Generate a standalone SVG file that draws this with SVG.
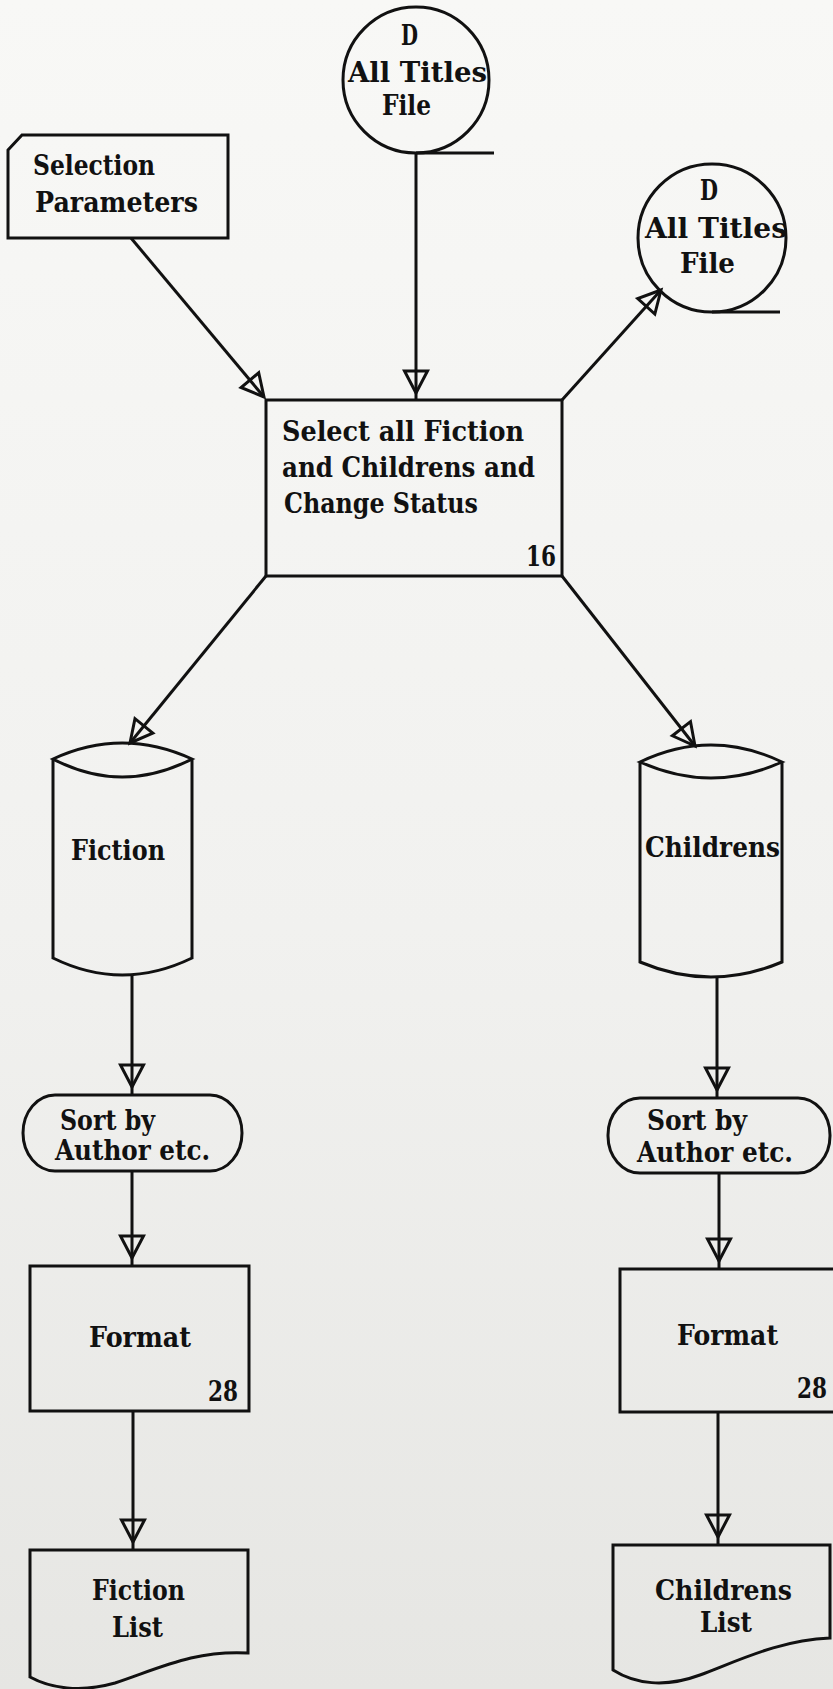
<svg xmlns="http://www.w3.org/2000/svg" width="833" height="1689" viewBox="0 0 833 1689">
<defs>
<linearGradient id="bg" x1="0" y1="0" x2="0" y2="1">
<stop offset="0" stop-color="#f8f8f6"/>
<stop offset="0.55" stop-color="#f1f1ef"/>
<stop offset="1" stop-color="#e6e6e3"/>
</linearGradient>
<marker id="arr" markerUnits="userSpaceOnUse" viewBox="-34 -15 36 30" refX="0" refY="0" markerWidth="36" markerHeight="30" orient="auto" overflow="visible">
<path d="M0,0 L-22,-11.5 L-22,11.5 Z" fill="none" stroke="#111" stroke-width="3" stroke-linejoin="miter"/>
</marker>
<marker id="arrg" markerUnits="userSpaceOnUse" viewBox="-34 -15 36 30" refX="0" refY="0" markerWidth="36" markerHeight="30" orient="auto" overflow="visible">
<path d="M-8,0 L-30,-11.5 L-30,11.5 Z" fill="none" stroke="#111" stroke-width="3" stroke-linejoin="miter"/>
</marker>
</defs>
<style>
.s{fill:none;stroke:#111;stroke-width:3;stroke-linejoin:miter}
.t{font-family:"DejaVu Serif","Liberation Serif",serif;font-weight:bold;font-size:27px;fill:#111}
.c{fill:none;stroke:#111;stroke-width:3}
</style>
<rect x="0" y="0" width="833" height="1689" fill="url(#bg)"/>

<g id="connectors">
<line class="c" x1="416" y1="153" x2="416" y2="401" marker-end="url(#arrg)"/>
<line class="c" x1="131" y1="238" x2="264" y2="397" marker-end="url(#arr)"/>
<line class="c" x1="562" y1="400" x2="661" y2="290" stroke-width="4" marker-end="url(#arr)"/>
<line class="c" x1="266" y1="576" x2="130" y2="743" marker-end="url(#arr)"/>
<line class="c" x1="562" y1="576" x2="695" y2="746" marker-end="url(#arr)"/>
<line class="c" x1="132" y1="975" x2="132" y2="1095" marker-end="url(#arrg)"/>
<line class="c" x1="717" y1="977" x2="717" y2="1098" marker-end="url(#arrg)"/>
<line class="c" x1="132" y1="1171" x2="132" y2="1266" marker-end="url(#arrg)"/>
<line class="c" x1="719" y1="1173" x2="719" y2="1269" marker-end="url(#arrg)"/>
<line class="c" x1="133" y1="1411" x2="133" y2="1550" marker-end="url(#arrg)"/>
<line class="c" x1="718" y1="1412" x2="718" y2="1545" marker-end="url(#arrg)"/>
</g>

<g id="file-top">
<circle class="s" cx="416" cy="80" r="73"/>
<path class="s" d="M416,153 H494"/>
<text class="t" x="401" y="45" textLength="17" lengthAdjust="spacingAndGlyphs">D</text>
<text class="t" x="348" y="82" textLength="139" lengthAdjust="spacingAndGlyphs">All Titles</text>
<text class="t" x="382" y="115" textLength="49" lengthAdjust="spacingAndGlyphs">File</text>
</g>

<g id="selection-parameters">
<path class="s" d="M8,150 L22,135 H228 V238 H8 Z"/>
<text class="t" x="33" y="175" textLength="122" lengthAdjust="spacingAndGlyphs">Selection</text>
<text class="t" x="35" y="212" textLength="163" lengthAdjust="spacingAndGlyphs">Parameters</text>
</g>

<g id="file-right">
<circle class="s" cx="712" cy="238" r="74"/>
<path class="s" d="M712,312 H780"/>
<text class="t" x="700" y="200" textLength="18" lengthAdjust="spacingAndGlyphs">D</text>
<text class="t" x="645" y="238" textLength="142" lengthAdjust="spacingAndGlyphs">All Titles</text>
<text class="t" x="680" y="273" textLength="55" lengthAdjust="spacingAndGlyphs">File</text>
</g>

<g id="select-process">
<rect class="s" x="266" y="400" width="296" height="176"/>
<text class="t" x="282" y="441" textLength="242" lengthAdjust="spacingAndGlyphs">Select all Fiction</text>
<text class="t" x="282" y="477" textLength="253" lengthAdjust="spacingAndGlyphs">and Childrens and</text>
<text class="t" x="284" y="513" textLength="194" lengthAdjust="spacingAndGlyphs">Change Status</text>
<text class="t" x="526" y="566" textLength="30" lengthAdjust="spacingAndGlyphs">16</text>
</g>

<g id="fiction-store">
<path class="s" d="M53,759 Q122,727 192,759 Q122,795 53,759 Z M53,759 V958 Q122,992 192,958 V759"/>
<text class="t" x="71" y="860" textLength="94" lengthAdjust="spacingAndGlyphs">Fiction</text>
</g>

<g id="childrens-store">
<path class="s" d="M640,762 Q711,728 782,762 Q711,794 640,762 Z M640,762 V962 Q711,992 782,962 V762"/>
<text class="t" x="645" y="857" textLength="135" lengthAdjust="spacingAndGlyphs">Childrens</text>
</g>

<g id="sort-left">
<rect class="s" x="23" y="1095" width="219" height="76" rx="32" ry="38"/>
<text class="t" x="60" y="1130" textLength="95" lengthAdjust="spacingAndGlyphs">Sort by</text>
<text class="t" x="55" y="1160" textLength="155" lengthAdjust="spacingAndGlyphs">Author etc.</text>
</g>

<g id="sort-right">
<rect class="s" x="608" y="1098" width="222" height="75" rx="32" ry="37"/>
<text class="t" x="647" y="1130" textLength="100" lengthAdjust="spacingAndGlyphs">Sort by</text>
<text class="t" x="637" y="1162" textLength="156" lengthAdjust="spacingAndGlyphs">Author etc.</text>
</g>

<g id="format-left">
<rect class="s" x="30" y="1266" width="219" height="145"/>
<text class="t" x="89" y="1347" textLength="102" lengthAdjust="spacingAndGlyphs">Format</text>
<text class="t" x="208" y="1401" textLength="30" lengthAdjust="spacingAndGlyphs">28</text>
</g>

<g id="format-right">
<rect class="s" x="620" y="1269" width="218" height="143"/>
<text class="t" x="677" y="1345" textLength="101" lengthAdjust="spacingAndGlyphs">Format</text>
<text class="t" x="797" y="1398" textLength="30" lengthAdjust="spacingAndGlyphs">28</text>
</g>

<g id="fiction-list">
<path class="s" d="M30,1550 H248 V1653 C195,1650 160,1668 115,1683 C80,1693 50,1688 30,1677 Z"/>
<text class="t" x="92" y="1600" textLength="93" lengthAdjust="spacingAndGlyphs">Fiction</text>
<text class="t" x="112" y="1637" textLength="51" lengthAdjust="spacingAndGlyphs">List</text>
</g>

<g id="childrens-list">
<path class="s" d="M613,1545 H830 V1638 C780,1640 740,1660 700,1675 C665,1688 635,1684 613,1670 Z"/>
<text class="t" x="655" y="1600" textLength="137" lengthAdjust="spacingAndGlyphs">Childrens</text>
<text class="t" x="700" y="1632" textLength="52" lengthAdjust="spacingAndGlyphs">List</text>
</g>
</svg>
